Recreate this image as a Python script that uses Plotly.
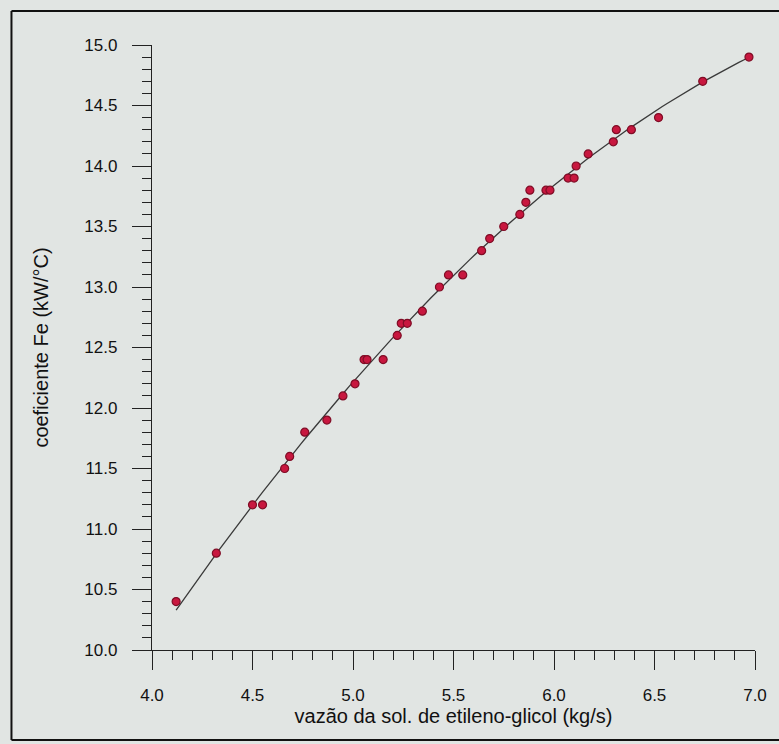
import numpy as np
import plotly.graph_objects as go

# data
vazao = [4.12, 4.32, 4.50, 4.55, 4.66, 4.685, 4.76, 4.87, 4.95, 5.01,
         5.055, 5.07, 5.15, 5.22, 5.24, 5.27, 5.345, 5.43, 5.475, 5.546,
         5.64, 5.68, 5.75, 5.83, 5.86, 5.88, 5.96, 5.98, 6.07, 6.10,
         6.11, 6.17, 6.295, 6.31, 6.385, 6.52, 6.74, 6.97]
fe = [10.4, 10.8, 11.2, 11.2, 11.5, 11.6, 11.8, 11.9, 12.1, 12.2,
      12.4, 12.4, 12.4, 12.6, 12.7, 12.7, 12.8, 13.0, 13.1, 13.1,
      13.3, 13.4, 13.5, 13.6, 13.7, 13.8, 13.8, 13.8, 13.9, 13.9,
      14.0, 14.1, 14.2, 14.3, 14.3, 14.4, 14.7, 14.9]

x_ticks = [4.0, 4.5, 5.0, 5.5, 6.0, 6.5, 7.0]
y_ticks = [10.0, 10.5, 11.0, 11.5, 12.0, 12.5, 13.0, 13.5, 14.0, 14.5, 15.0]

# quadratic regression curve through the data
coef = np.polyfit(vazao, fe, 2)
xf = np.linspace(min(vazao), max(vazao), 120)
yf = np.polyval(coef, xf)

BG = "#e1e5e3"
FONT = "Liberation Sans, Arial, sans-serif"

fig = go.Figure()
fig.add_trace(go.Scatter(x=xf, y=yf, mode="lines",
                         line=dict(color="#3a3a3a", width=1.3),
                         hoverinfo="skip", showlegend=False))
fig.add_trace(go.Scatter(x=vazao, y=fe, mode="markers",
                         marker=dict(color="#c8173f", size=8,
                                     line=dict(color="#7f0d26", width=1.2)),
                         showlegend=False))

axis_common = dict(
    showgrid=False, zeroline=False, showline=True, linecolor="#222",
    linewidth=1.3, ticks="outside", ticklen=19, tickwidth=1.3,
    tickcolor="#222", tickfont=dict(family=FONT, size=17, color="#111"),
    mirror=False,
)

fig.update_xaxes(
    range=[4.0, 7.0], tickvals=x_ticks,
    ticktext=[f"{v:.1f}" for v in x_ticks],
    minor=dict(ticks="outside", ticklen=9, tickwidth=1.2, tickcolor="#222",
               dtick=0.1, showgrid=False),
    ticklabelstandoff=10,
    title=dict(text="vazão da sol. de etileno-glicol (kg/s)",
               font=dict(family=FONT, size=20, color="#111"), standoff=2),
    **axis_common,
)
fig.update_yaxes(
    range=[10.0, 15.0], tickvals=y_ticks,
    ticktext=[f"{v:.1f}" for v in y_ticks],
    minor=dict(ticks="outside", ticklen=9, tickwidth=1.2, tickcolor="#222",
               dtick=0.1, showgrid=False),
    ticklabelstandoff=11,
    title=dict(text="coeficiente Fe (kW/°C)",
               font=dict(family=FONT, size=20, color="#111"), standoff=30),
    **axis_common,
)

# scanned page frame
pw, ph = 605.0, 605.0
def px(xp):
    return (xp - 152) / pw
def py(yp):
    return (650 - yp) / ph

fig.add_shape(type="line", xref="paper", yref="paper",
              x0=px(11), x1=px(11), y0=py(11), y1=py(740),
              line=dict(color="#111", width=2))
fig.add_shape(type="line", xref="paper", yref="paper",
              x0=px(11), x1=px(790), y0=py(11), y1=py(11),
              line=dict(color="#111", width=2))
fig.add_shape(type="line", xref="paper", yref="paper",
              x0=px(11), x1=px(790), y0=py(740), y1=py(740),
              line=dict(color="#111", width=2))

fig.update_layout(
    width=779, height=744,
    margin=dict(l=152, r=22, t=45, b=94),
    paper_bgcolor=BG, plot_bgcolor=BG,
    font=dict(family=FONT, color="#111"),
    showlegend=False,
)

fig.write_html("out.html")
